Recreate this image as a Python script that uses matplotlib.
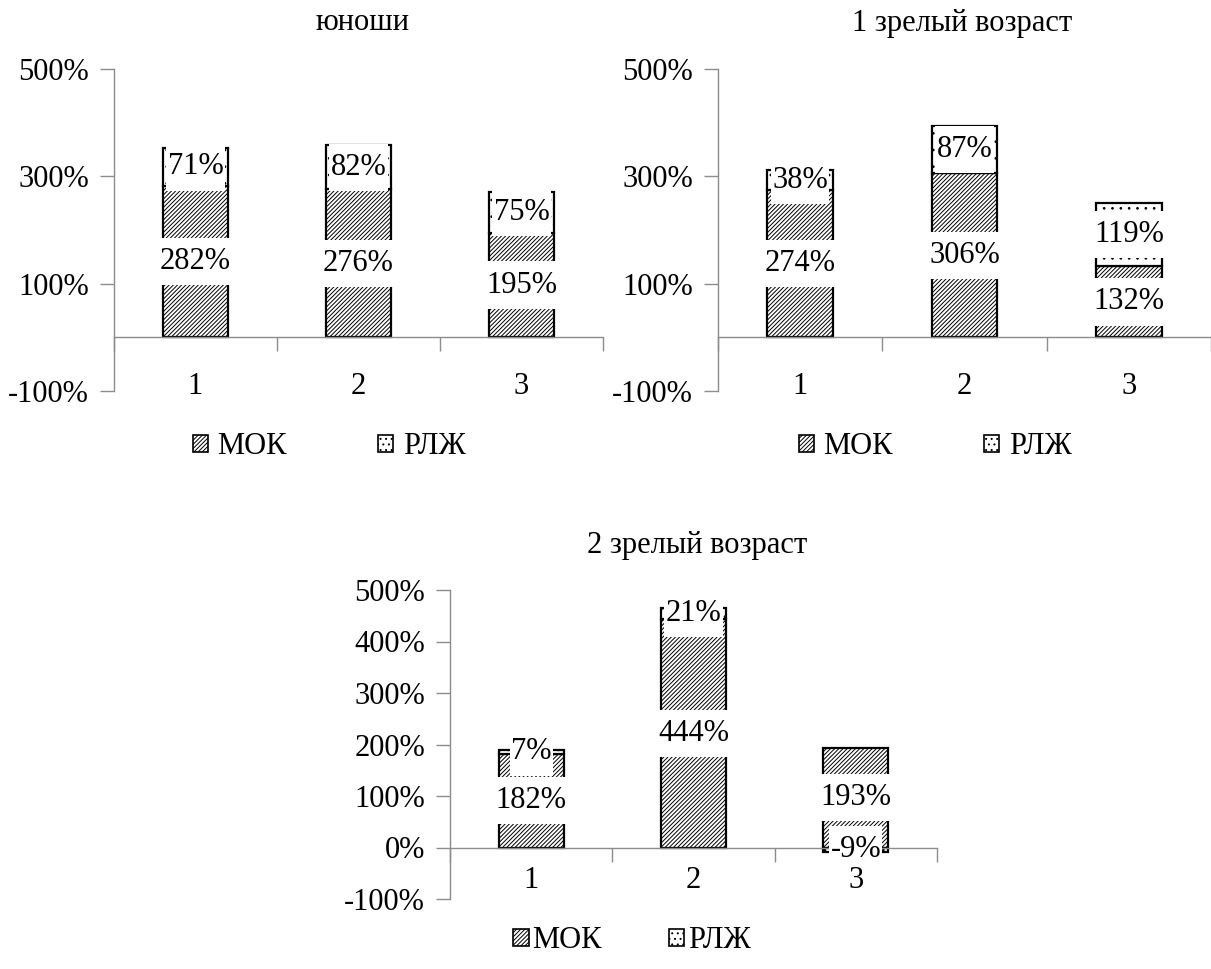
import matplotlib
matplotlib.use("Agg")
import matplotlib.pyplot as plt
from matplotlib.patches import Patch
from matplotlib.path import Path
from matplotlib.ticker import FixedLocator, FuncFormatter

plt.rcParams['font.family'] = ['Liberation Serif', 'DejaVu Serif']
plt.rcParams['hatch.linewidth'] = 0.7

# Data
categories = ['1', '2', '3']
series_names = ['МОК', 'РЛЖ']

young_mok = [282, 276, 195]
young_rlj = [71, 82, 75]

mature1_mok = [274, 306, 132]
mature1_rlj = [38, 87, 119]

mature2_mok = [182, 444, 193]
mature2_rlj = [7, 21, -9]

titles = ['юноши', '1 зрелый возраст', '2 зрелый возраст']

FS = 22
AXIS_GRAY = '#8c8c8c'
MOK_HATCH = '////////'
RLJ_HATCH = '..'


def label_box(x0, y0, width, height, mutation_size):
    """Rectangle with a tight horizontal and a generous vertical margin."""
    px = 0.04 * mutation_size
    py = 0.30 * mutation_size
    x0, x1 = x0 - px, x0 + width + px
    y0, y1 = y0 - py, y0 + height + py
    return Path([(x0, y0), (x1, y0), (x1, y1), (x0, y1), (x0, y0)], closed=True)


def draw_panel(ax, mok, rlj, yticks, xlabel_pad, ylabel_pad):
    x = list(range(1, len(categories) + 1))
    width = 0.4
    ax.bar(x, mok, width, color='white', edgecolor='black', hatch=MOK_HATCH,
           linewidth=1.6, zorder=2)
    rlj_bottom = [m if r >= 0 else 0 for m, r in zip(mok, rlj)]
    ax.bar(x, rlj, width, bottom=rlj_bottom, color='white', edgecolor='black',
           hatch=RLJ_HATCH, linewidth=1.6, zorder=2)

    # value labels centred in each segment, on white boxes
    box = dict(boxstyle=label_box, facecolor='white', edgecolor='none')
    for xi, m in zip(x, mok):
        ax.text(xi, m / 2, f'{m}%', ha='center', va='center', fontsize=FS,
                bbox=box, zorder=4)
    for xi, b, r in zip(x, rlj_bottom, rlj):
        ax.text(xi, b + r / 2, f'{r}%', ha='center', va='center', fontsize=FS,
                bbox=box, zorder=4)

    ax.set_xlim(0.5, len(categories) + 0.5)
    ax.set_ylim(yticks[0], yticks[-1])

    for side in ('top', 'right'):
        ax.spines[side].set_visible(False)
    for side in ('left', 'bottom'):
        ax.spines[side].set_color(AXIS_GRAY)
        ax.spines[side].set_linewidth(1.0)
    ax.spines['bottom'].set_position(('data', 0))

    ax.yaxis.set_major_locator(FixedLocator(yticks))
    ax.yaxis.set_major_formatter(FuncFormatter(lambda v, p: f'{int(v)}%'))
    ax.tick_params(axis='y', direction='out', length=10, width=1,
                   color=AXIS_GRAY, labelsize=FS, pad=ylabel_pad)

    ax.set_xticks(x)
    ax.set_xticklabels(categories)
    ax.set_xticks([i + 0.5 for i in range(0, len(categories) + 1)], minor=True)
    ax.tick_params(axis='x', which='major', length=0, labelsize=FS,
                   pad=xlabel_pad)
    ax.tick_params(axis='x', which='minor', direction='out', length=10,
                   width=1, color=AXIS_GRAY)
    # category labels stay readable above the value boxes
    ax.xaxis.set_zorder(5)
    ax.set_facecolor('none')


def add_legend(fig, cx, cy, textpad=0.3, colspace=3.0):
    handles = [
        Patch(facecolor='white', edgecolor='black', hatch=MOK_HATCH,
              linewidth=1.2, label=series_names[0]),
        Patch(facecolor='white', edgecolor='black', hatch='...',
              linewidth=1.2, label=series_names[1]),
    ]
    fig.legend(handles=handles, loc='center', bbox_to_anchor=(cx, cy),
               ncol=2, frameon=False, fontsize=FS, handlelength=0.5,
               handleheight=0.5, handletextpad=textpad, columnspacing=colspace,
               borderaxespad=0)


W, H = 1211, 969
fig = plt.figure(figsize=(W / 100, H / 100), dpi=100)


def axes_px(x0, x1, y0, y1):
    return fig.add_axes([x0 / W, 1 - y1 / H, (x1 - x0) / W, (y1 - y0) / H])


ax1 = axes_px(114, 603, 69, 391)
draw_panel(ax1, young_mok, young_rlj, [-100, 100, 300, 500], 25, 8)

ax2 = axes_px(718, 1211, 69, 391)
draw_panel(ax2, mature1_mok, mature1_rlj, [-100, 100, 300, 500], 25, 8)

ax3 = axes_px(450, 937, 590, 899)
draw_panel(ax3, mature2_mok, mature2_rlj,
           [-100, 0, 100, 200, 300, 400, 500], 13, 8)

fig.text(362 / W, 1 - 23 / H, titles[0], ha='center', va='center', fontsize=FS)
fig.text(962 / W, 1 - 23 / H, titles[1], ha='center', va='center', fontsize=FS)
fig.text(697 / W, 1 - 546 / H, titles[2], ha='center', va='center', fontsize=FS)

add_legend(fig, 329 / W, 1 - 447 / H)
add_legend(fig, 935 / W, 1 - 447 / H)
add_legend(fig, 632 / W, 1 - 941 / H, textpad=0.12, colspace=2.2)

fig.savefig('out.png', dpi=100, facecolor='white')
